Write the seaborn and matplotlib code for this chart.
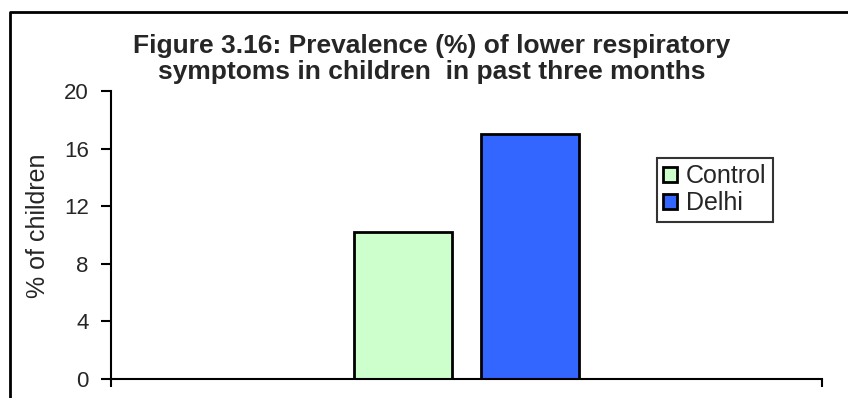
import matplotlib
matplotlib.use("Agg")
import matplotlib.pyplot as plt
import seaborn as sns
import pandas as pd
from matplotlib.lines import Line2D

groups = ["Control", "Delhi"]
values = [10.2, 17.0]
category = [""]
yticks = [0, 4, 8, 12, 16, 20]
title = "Figure 3.16: Prevalence (%) of lower respiratory\nsymptoms in children  in past three months"
ylabel = "% of children"
colors = ["#CCFFCC", "#3366FF"]

sns.set_theme(style="white")
plt.rcParams["font.family"] = ["Liberation Sans", "DejaVu Sans"]

df = pd.DataFrame({"cat": category * len(groups), "group": groups, "value": values})

fig = plt.figure(figsize=(8.48, 3.98), dpi=100)
ax = fig.add_axes([111/848, 19/398, (822-111)/848, (379-91)/398])

sns.barplot(data=df, x="cat", y="value", hue="group", palette=colors,
            width=0.356, gap=0.23, edgecolor="black", linewidth=2.0,
            saturation=1, ax=ax, legend=True)

ax.set_ylim(0, 20)
ax.set_xlim(-0.5, 0.5)
ax.set_yticks(yticks)
ax.set_yticklabels([str(t) for t in yticks], fontsize=16)
ax.set_xticks([-0.5, 0.5])
ax.set_xticklabels(["", ""])
ax.set_xlabel("")
ax.set_ylabel(ylabel, fontsize=18)
ax.yaxis.set_label_coords((50-111)/711, (379-226)/288)
ax.tick_params(axis="y", direction="out", length=7, width=1.5, left=True, color="black", pad=9)
ax.tick_params(axis="x", direction="out", length=6, width=1.5, bottom=True, color="black")
for s in ["top", "right"]:
    ax.spines[s].set_visible(False)
for s in ["left", "bottom"]:
    ax.spines[s].set_color("black")
    ax.spines[s].set_linewidth(1.5)

leg = ax.legend(loc="upper left", bbox_to_anchor=((657-111)/711, (379-158)/288),
                frameon=True, fancybox=False, edgecolor="black", fontsize=18,
                handlelength=0.55, handleheight=0.55, handletextpad=0.35,
                borderpad=0.25, labelspacing=0.12, borderaxespad=0)
leg.get_frame().set_linewidth(1.5)

fig.text(432/848, 1 - 59/398, title, ha="center", va="center", fontsize=19,
         fontweight="bold", linespacing=1.08)

# outer chart-area border (top and left visible)
fig.add_artist(Line2D([10/848, 10/848, 1.02], [-0.02, 1-12/398, 1-12/398],
                      transform=fig.transFigure, color="black", linewidth=2))

fig.savefig("out.png", dpi=100)
